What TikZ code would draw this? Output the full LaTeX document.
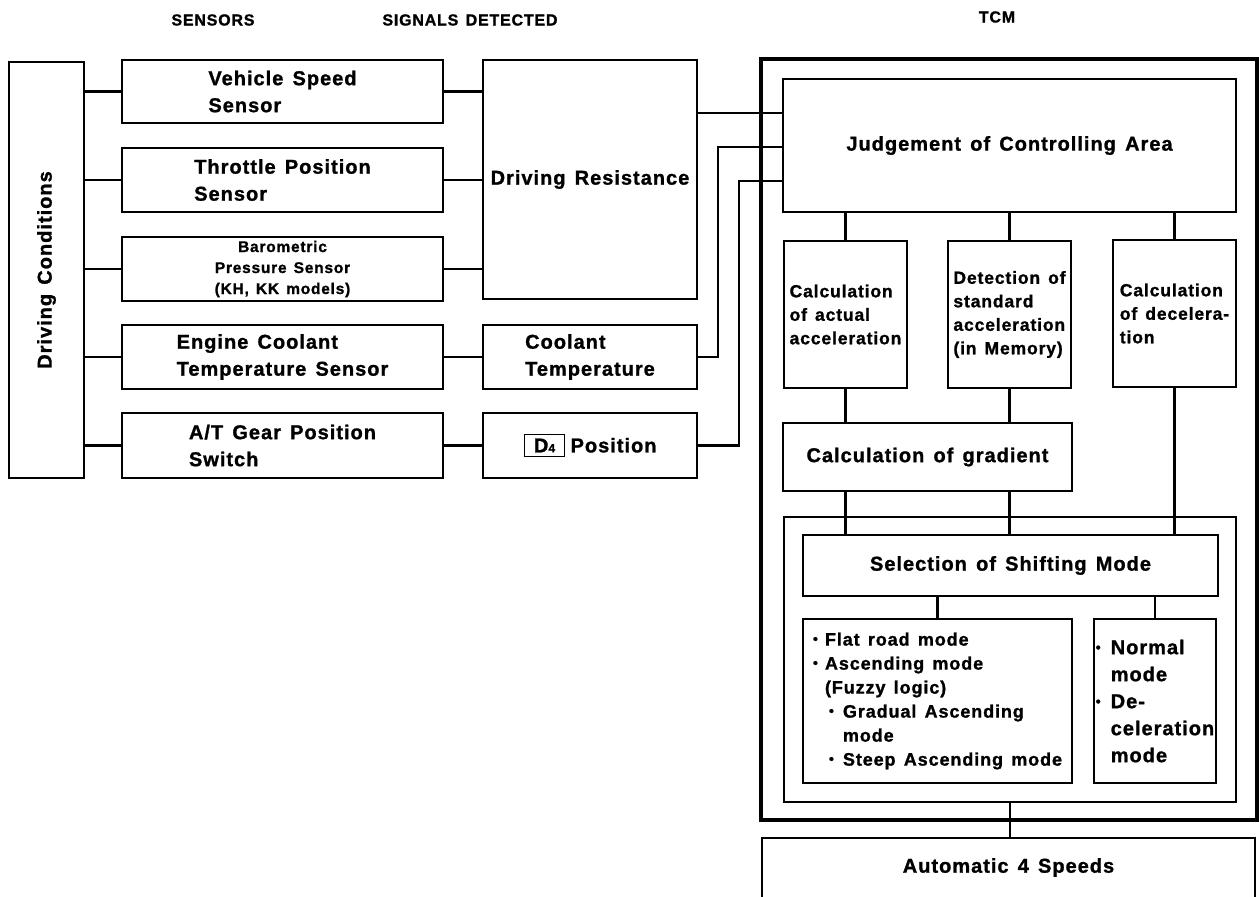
\documentclass[tikz,border=0pt]{standalone}
\usepackage{fontspec}
\setmainfont{Liberation Sans}[LetterSpace=5,WordSpace=1.4,BoldFeatures={FakeBold=1.2}]
\newcommand\mybox[7]{\node[box,minimum width={(#4-#2)*1pt},minimum height={(#5-#3)*1pt},#6] (#1) at ({(#2+#4)/2},{(#3+#5)/2}) {#7};}
\newcommand\bul{\raisebox{2pt}{\fontsize{14}{14}\selectfont\textbullet}}
\tikzset{
  box/.style={draw, line width=2.2pt, inner sep=0pt, outer sep=0pt, align=left,
    font=\bfseries\fontsize{20}{27}\selectfont},
  smalltxt/.style={font=\bfseries\fontsize{17.5}{23.5}\selectfont},
  baro/.style={align=center, font=\bfseries\fontsize{15.5}{21}\selectfont},
  modetxt/.style={font=\bfseries\fontsize{18}{24}\selectfont},
  conn/.style={line width=2.2pt},
  hdr/.style={font=\bfseries\fontsize{16}{18}\selectfont},
}
\begin{document}
\begin{tikzpicture}[x=1pt,y=-1pt]
\useasboundingbox (0,0) rectangle (1259,897);
% headers
\node[hdr] (hS) at (213,20) {SENSORS};
\node[hdr] (hSig) at (470,20) {SIGNALS DETECTED};
\node[hdr] (hT) at (997,17) {TCM};
% left column
\mybox{DC}{9}{62}{84}{478}{}{}
\node[box, draw=none, rotate=90] (DCt) at (DC.center) {Driving Conditions};
\mybox{VSS}{122}{60}{443}{123}{}{Vehicle Speed\\Sensor}
\mybox{TPS}{122}{148}{443}{212}{}{Throttle Position\\Sensor}
\mybox{BPS}{122}{237}{443}{301}{baro}{Barometric\\Pressure Sensor\\(KH, KK models)}
\mybox{ECT}{122}{325}{443}{389}{}{Engine Coolant\\Temperature Sensor}
\mybox{ATG}{122}{413}{443}{478}{}{A/T Gear Position\\Switch}
% signals
\mybox{DR}{483}{60}{697}{299}{}{Driving Resistance}
\mybox{CT}{483}{325}{697}{389}{}{Coolant\\Temperature}
\mybox{DF}{483}{413}{697}{478}{}{{\setlength{\fboxsep}{3.5pt}\setlength{\fboxrule}{1pt}\fbox{\hspace{6pt}D{\fontsize{12}{12}\selectfont 4}\hspace{5pt}}}\hspace{6pt}Position}
% TCM
\mybox{TCM}{761}{59}{1257}{820}{line width=4.8pt}{}
\mybox{JCA}{783}{79}{1236}{212}{}{Judgement of Controlling Area}
\mybox{CAA}{784}{241}{907}{388}{smalltxt}{Calculation\\of actual\\acceleration}
\mybox{DSA}{948}{241}{1071}{388}{smalltxt}{Detection of\\standard\\acceleration\\(in Memory)}
\mybox{CD}{1113}{240}{1236}{387}{smalltxt}{Calculation\\of decelera-\\tion}
\mybox{CG}{783}{423}{1072}{491}{}{Calculation of gradient}
\mybox{SF}{784}{517}{1236}{802}{}{}
\mybox{SSM}{803}{535}{1218}{596}{}{Selection of Shifting Mode}
\mybox{ML}{803}{619}{1072}{783}{modetxt}{\makebox[12pt][l]{\bul}Flat road mode\\
\makebox[12pt][l]{\bul}Ascending mode\\
\hspace*{12pt}(Fuzzy logic)\\
\hspace*{16pt}\makebox[14pt][l]{\bul}Gradual Ascending\\
\hspace*{30pt}mode\\
\hspace*{16pt}\makebox[14pt][l]{\bul}Steep Ascending mode}
\mybox{MR}{1094}{619}{1216}{783}{}{\makebox[15pt][l]{\bul}Normal\\
\hspace*{15pt}mode\\
\makebox[15pt][l]{\bul}De-\\
\hspace*{15pt}celeration\\
\hspace*{15pt}mode}
% output
\node[box, draw=none, minimum width=493pt, minimum height=59pt] (A4S) at (1008.5,867.5) {Automatic 4 Speeds};
\draw[conn] (A4S.south west) -- (A4S.north west) -- (A4S.north east) -- (A4S.south east);
% connectors: driving conditions to sensors
\foreach \s in {VSS,TPS,BPS,ECT,ATG}{
  \draw[conn] (\s.west -| DC.east) -- (\s.west);
}
% sensors to signals
\foreach \s in {VSS,TPS,BPS}{
  \draw[conn] (\s.east) -- (\s.east -| DR.west);
}
\draw[conn] (ECT.east) -- (CT.west);
\draw[conn] (ATG.east) -- (DF.west);
% signals to TCM
\draw[conn] ([yshift=66.5pt]DR.east) coordinate (p1) -- (p1 -| JCA.west);
\draw[conn] (CT.east) -- ++(21,0) |- ([yshift=-1.5pt]JCA.west);
\draw[conn] (DF.east) -- ++(42,0) |- ([yshift=-35.5pt]JCA.west);
% inside TCM
\foreach \s in {CAA,DSA,CD}{
  \draw[conn] (\s.north) -- (\s.north |- JCA.south);
}
\foreach \s in {CAA,DSA}{
  \draw[conn] (\s.south) -- (\s.south |- CG.north);
  \draw[conn] (\s.south |- CG.south) -- (\s.south |- SSM.north);
}
\draw[conn] (CD.south) -- (CD.south |- SSM.north);
\draw[conn] (ML.north) -- (ML.north |- SSM.south);
\draw[conn] (MR.north) -- (MR.north |- SSM.south);
\draw[conn] (SF.south) -- (SF.south |- A4S.north);
\end{tikzpicture}
\end{document}
